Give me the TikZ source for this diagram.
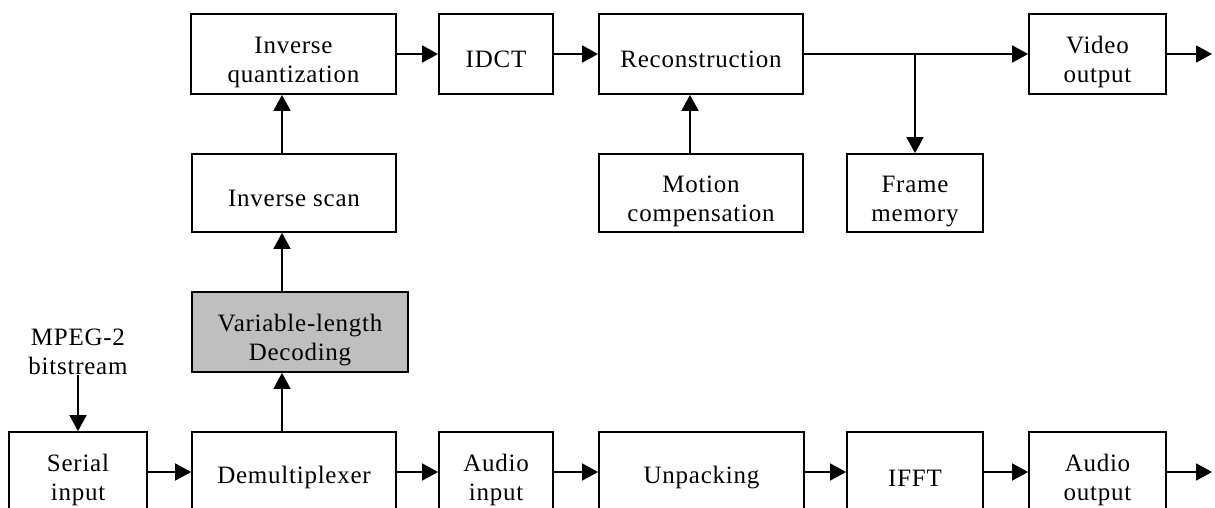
\documentclass[tikz,border=0pt]{standalone}
\usepackage{fontspec}
\setmainfont{Liberation Serif}[LetterSpace=3]
\usetikzlibrary{arrows.meta}

\tikzset{
  box/.style={draw,line width=1.8pt,align=center,inner sep=0pt,
    minimum height=80pt,font=\fontsize{25}{29}\selectfont},
  blk/.style={box,execute at begin node={\rule{0pt}{28pt}}},
  blkii/.style={box,execute at begin node={\rule{0pt}{63pt}}},
  shaded/.style={blkii,fill=black!25},
  arr/.style={line width=1.8pt,-{Triangle[length=16pt,width=17pt]}}
}

\begin{document}
\begin{tikzpicture}[x=1pt,y=-1pt]
\clip (0,0) rectangle (1215,508);
\fill[white] (0,0) rectangle (1215,508);
% video path
\node[blkii,minimum width=205pt] (iq) at (293.5,54) {Inverse\\quantization};
\node[blk,minimum width=114pt] (idct) at (496,54) {IDCT};
\node[blk,minimum width=204pt] (recon) at (701,54) {Reconstruction};
\node[blkii,minimum width=137pt] (vout) at (1097.5,54) {Video\\output};
\node[blk,minimum width=204pt,minimum height=78pt] (iscan) at (294,193) {Inverse scan};
\node[blkii,minimum width=204pt,minimum height=78pt] (motion) at (701,193) {Motion\\compensation};
\node[blkii,minimum width=136pt,minimum height=78pt] (frame) at (915,193) {Frame\\memory};
\node[shaded,minimum width=216pt] (vld) at (300,332) {Variable-length\\Decoding};
% audio path
\node[blkii,minimum width=138pt] (serial) at (78,472) {Serial\\input};
\node[blk,minimum width=204pt] (demux) at (294,472) {Demultiplexer};
\node[blkii,minimum width=114pt] (ain) at (496,472) {Audio\\input};
\node[blk,minimum width=205pt] (unpack) at (701.5,472) {Unpacking};
\node[blk,minimum width=136pt] (ifft) at (915,472) {IFFT};
\node[blkii,minimum width=137pt] (aout) at (1097.5,472) {Audio\\output};
\node[align=center,font=\fontsize{25}{29}\selectfont,inner sep=0pt] (mpeg) at (78,352) {MPEG-2\\bitstream};
\coordinate (vend) at (1212,54);
\coordinate (aend) at (1212,472);
% connectors
\draw[arr] (mpeg.south -| serial.north) -- (serial.north);
\draw[arr] (serial) -- (demux);
\draw[arr] (demux) -- (ain);
\draw[arr] (ain) -- (unpack);
\draw[arr] (unpack) -- (ifft);
\draw[arr] (ifft) -- (aout);
\draw[arr] (aout) -- (aend);
\draw[arr] ([xshift=-12pt]demux.north) -- ([xshift=-12pt]demux.north |- vld.south);
\draw[arr] ([xshift=-12pt]demux.north |- vld.north) -- ([xshift=-12pt]iscan.south);
\draw[arr] ([xshift=-12pt]iscan.north) -- ([xshift=-12pt]iscan.north |- iq.south);
\draw[arr] (iq) -- (idct);
\draw[arr] (idct) -- (recon);
\draw[arr] (recon) -- (vout);
\draw[arr] ([xshift=-11pt]motion.north) -- ([xshift=-11pt]motion.north |- recon.south);
\draw[arr] (frame.north |- recon.east) -- (frame.north);
\draw[arr] (vout) -- (vend);
\end{tikzpicture}
\end{document}
